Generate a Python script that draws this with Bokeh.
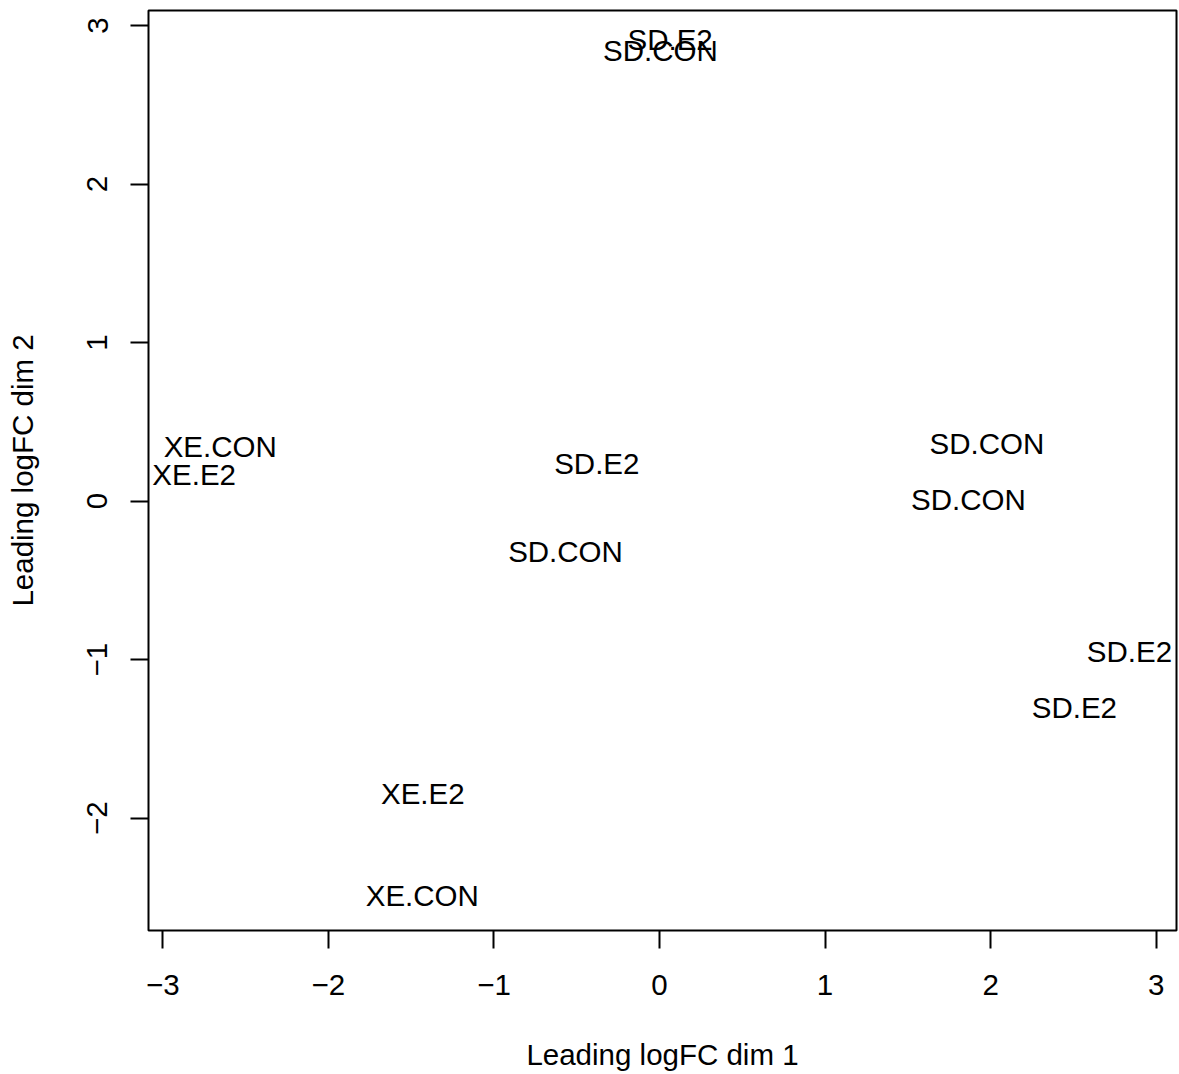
from bokeh.plotting import figure
from bokeh.models import ColumnDataSource, Range1d, FixedTicker
from bokeh.core.properties import value
from bokeh.embed import file_html
from bokeh.resources import INLINE

# Sample labels and MDS coordinates (leading logFC dims)
labels = ["SD.E2", "SD.CON", "XE.CON", "XE.E2", "SD.E2", "SD.CON",
          "SD.CON", "SD.CON", "SD.E2", "SD.E2", "XE.E2", "XE.CON"]
dim1 = [0.064, 0.005, -2.654, -2.811, -0.379, -0.568,
        1.978, 1.866, 2.839, 2.506, -1.430, -1.433]
dim2 = [2.910, 2.843, 0.347, 0.170, 0.239, -0.316,
        0.366, 0.012, -0.948, -1.301, -1.843, -2.487]

x_ticks = [-3, -2, -1, 0, 1, 2, 3]
y_ticks = [-2, -1, 0, 1, 2, 3]
x_tick_labels = ["\u22123", "\u22122", "\u22121", "0", "1", "2", "3"]
y_tick_labels = ["\u22122", "\u22121", "0", "1", "2", "3"]

FONT = "Liberation Sans"
FS = "29.5px"

src = ColumnDataSource(dict(x=dim1, y=dim2, label=labels))

p = figure(width=1179, height=1074,
           x_range=Range1d(-3.087, 3.123), y_range=Range1d(-2.709, 3.095),
           output_backend="svg", toolbar_location=None,
           min_border_left=148, min_border_right=3,
           min_border_top=10, min_border_bottom=144)

p.background_fill_color = "white"
p.border_fill_color = "white"
p.outline_line_color = "black"
p.outline_line_width = 2
p.xgrid.visible = False
p.ygrid.visible = False

p.text(x="x", y="y", text="label", source=src,
       text_font=value(FONT), text_font_size=value(FS),
       text_align="center", text_baseline="middle", text_color="black")

for ax, ticks, tl in ((p.xaxis[0], x_ticks, x_tick_labels),
                      (p.yaxis[0], y_ticks, y_tick_labels)):
    ax.ticker = FixedTicker(ticks=ticks, minor_ticks=[])
    ax.major_label_overrides = {t: s for t, s in zip(ticks, tl)}
    ax.axis_line_color = None
    ax.major_tick_in = 0
    ax.major_tick_out = 18
    ax.major_tick_line_width = 2
    ax.major_tick_line_color = "black"
    ax.minor_tick_line_color = None
    ax.major_label_text_font = FONT
    ax.major_label_text_font_size = FS
    ax.major_label_text_color = "black"
    ax.axis_label_text_font = FONT
    ax.axis_label_text_font_size = FS
    ax.axis_label_text_font_style = "normal"
    ax.axis_label_text_color = "black"

p.xaxis.axis_label = "Leading logFC dim 1"
p.yaxis.axis_label = "Leading logFC dim 2"
p.xaxis.major_label_standoff = 26
p.xaxis.axis_label_standoff = 40
p.yaxis.major_label_orientation = "vertical"
p.yaxis.major_label_standoff = 23
p.yaxis.axis_label_standoff = 46

open("out.html", "w").write(file_html(p, INLINE))
